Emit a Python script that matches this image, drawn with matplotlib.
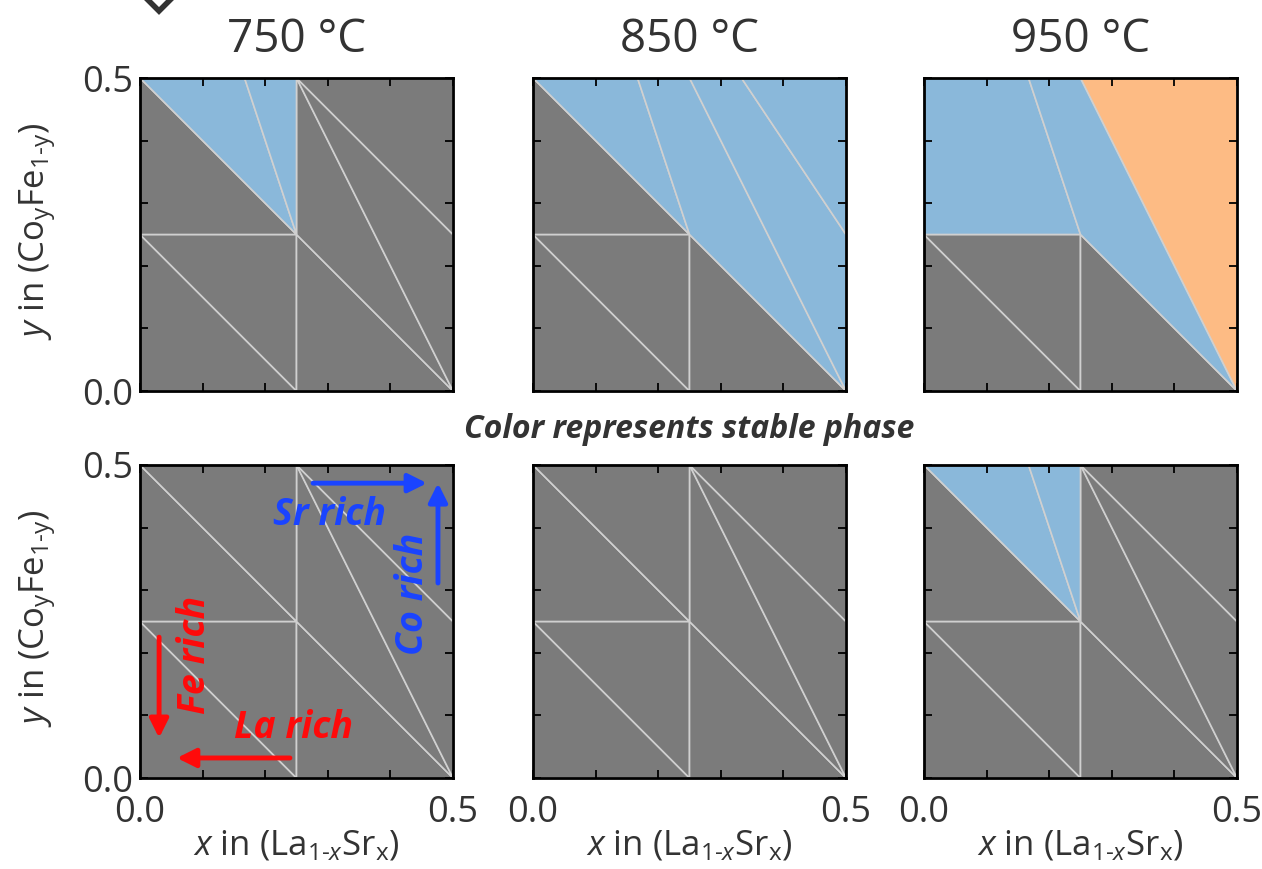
import matplotlib
matplotlib.use("Agg")
import matplotlib.pyplot as plt
import numpy as np

plt.rcParams['font.family'] = ['Open Sans', 'DejaVu Sans']
plt.rcParams['mathtext.fontset'] = 'custom'
plt.rcParams['mathtext.rm'] = 'Open Sans'
plt.rcParams['mathtext.it'] = 'Open Sans:italic'

# composition nodes (x in La1-xSrx, y in CoyFe1-y)
node_x = [0.0, 0.25, 0.5, 0.0, 0.25, 0.5, 0.0, 0.167, 0.25, 0.333, 0.5]
node_y = [0.0, 0.0, 0.0, 0.25, 0.25, 0.25, 0.5, 0.5, 0.5, 0.5, 0.5]

# regions (node indices) and stable phase of each region
regions_750_top = [[0, 1, 3], [3, 1, 4], [1, 2, 4], [4, 2, 8], [8, 2, 5], [8, 5, 10], [3, 4, 6], [6, 4, 7], [7, 4, 8]]
phases_750_top = [0, 0, 0, 0, 0, 0, 0, 1, 1]
regions_850_top = [[0, 1, 3], [3, 1, 4], [1, 2, 4], [3, 4, 6], [6, 4, 7], [7, 4, 2, 8], [8, 2, 5, 9], [9, 5, 10]]
phases_850_top = [0, 0, 0, 0, 1, 1, 1, 1]
regions_950_top = [[0, 1, 3], [3, 1, 4], [1, 2, 4], [3, 4, 7, 6], [7, 4, 2, 8], [8, 2, 10]]
phases_950_top = [0, 0, 0, 1, 1, 2]
regions_750_bot = [[0, 1, 3], [3, 1, 4], [1, 2, 4], [4, 2, 8], [8, 2, 5], [8, 5, 10], [3, 4, 6], [6, 4, 8]]
phases_750_bot = [0, 0, 0, 0, 0, 0, 0, 0]
regions_850_bot = [[0, 1, 3], [3, 1, 4], [1, 2, 4], [4, 2, 8], [8, 2, 5], [8, 5, 10], [3, 4, 6], [6, 4, 8]]
phases_850_bot = [0, 0, 0, 0, 0, 0, 0, 0]
regions_950_bot = [[0, 1, 3], [3, 1, 4], [1, 2, 4], [4, 2, 8], [8, 2, 5], [8, 5, 10], [3, 4, 6], [6, 4, 7], [7, 4, 8]]
phases_950_bot = [0, 0, 0, 0, 0, 0, 0, 1, 1]

titles = ['750 °C', '850 °C', '950 °C']
phase_colors = ['#7b7b7b', '#8ab8da', '#fdbb84']
edge_color = '#d0d0d0'
text_color = '#333333'

panels = [
    [(regions_750_top, phases_750_top), (regions_850_top, phases_850_top), (regions_950_top, phases_950_top)],
    [(regions_750_bot, phases_750_bot), (regions_850_bot, phases_850_bot), (regions_950_bot, phases_950_bot)],
]

W, H = 1262, 869
fig = plt.figure(figsize=(W / 100, H / 100), dpi=100)

lefts = [140, 533, 924]
tops = [78, 465]
size = 313

xlab = r'$x$ in (La$_{\mathrm{1\text{-}}x}$Sr$_\mathrm{x}$)'
ylab = r'$y$ in (Co$_\mathrm{y}$Fe$_\mathrm{1\text{-}y}$)'

axes = []
for r in range(2):
    for c in range(3):
        ax = fig.add_axes([lefts[c] / W, (H - tops[r] - size) / H, size / W, size / H])
        regs, phs = panels[r][c]
        nx = np.array(node_x)
        ny = np.array(node_y)
        for idx, p in zip(regs, phs):
            ax.fill(nx[idx], ny[idx], facecolor=phase_colors[p], edgecolor=edge_color, lw=1.2)
        ax.set_xlim(0, 0.5)
        ax.set_ylim(0, 0.5)
        ticks = np.arange(0, 0.51, 0.1)
        ax.set_xticks(ticks)
        ax.set_yticks(ticks)
        lab = ['0.0', '', '', '', '', '0.5']
        ax.set_xticklabels(lab if r == 1 else [''] * 6)
        ax.set_yticklabels(lab if c == 0 else [''] * 6)
        ax.tick_params(direction='in', top=True, right=True, length=6, width=1.3,
                       labelsize=26, labelcolor=text_color)
        ax.tick_params(axis='x', pad=12)
        ax.tick_params(axis='y', pad=5)
        for s in ax.spines.values():
            s.set_linewidth(2)
        if r == 0:
            ax.set_title(titles[c], fontsize=33, color=text_color, pad=19)
        if r == 1:
            fig.text((lefts[c] + size / 2) / W, (H - 846) / H, xlab, fontsize=25,
                     color=text_color, ha='center', va='center')
        if c == 0:
            fig.text(38 / W, (H - tops[r] - size / 2 + 3) / H, ylab, fontsize=25,
                     color=text_color, ha='center', va='center', rotation=90)
        axes.append(ax)

fig.text(689 / W, (H - 430) / H, 'Color represents stable phase', fontsize=23,
         fontweight='bold', fontstyle='italic', color=text_color, ha='center', va='center')

# direction hints in the 750 °C bottom panel
ax = axes[3]
blue = '#1a44ff'
red = '#ff0a0a'
arw = dict(arrowstyle='-|>', lw=3.5, mutation_scale=28, shrinkA=0, shrinkB=0)
ax.annotate('', xy=(0.917, 0.942), xytext=(0.553, 0.942), xycoords='axes fraction',
            arrowprops=dict(arw, color=blue))
ax.annotate('', xy=(0.952, 0.942), xytext=(0.952, 0.623), xycoords='axes fraction',
            arrowprops=dict(arw, color=blue))
ax.annotate('', xy=(0.061, 0.128), xytext=(0.061, 0.45), xycoords='axes fraction',
            arrowprops=dict(arw, color=red))
ax.annotate('', xy=(0.118, 0.064), xytext=(0.479, 0.064), xycoords='axes fraction',
            arrowprops=dict(arw, color=red))
hint = dict(fontsize=27, fontweight='bold', fontstyle='italic', ha='center', va='center',
            transform=ax.transAxes)
ax.text(0.604, 0.84, 'Sr rich', color=blue, **hint)
ax.text(0.872, 0.588, 'Co rich', color=blue, rotation=90, **hint)
ax.text(0.176, 0.393, 'Fe rich', color=red, rotation=90, **hint)
ax.text(0.489, 0.16, 'La rich', color=red, **hint)

# partly cut-off marker at the top edge
fig.add_artist(plt.Line2D([159 / W], [1 + 7 / H], marker='D', markersize=18, mfc='white',
                          mec='#333333', mew=4, transform=fig.transFigure, clip_on=False))

fig.savefig('out.png', dpi=100)
